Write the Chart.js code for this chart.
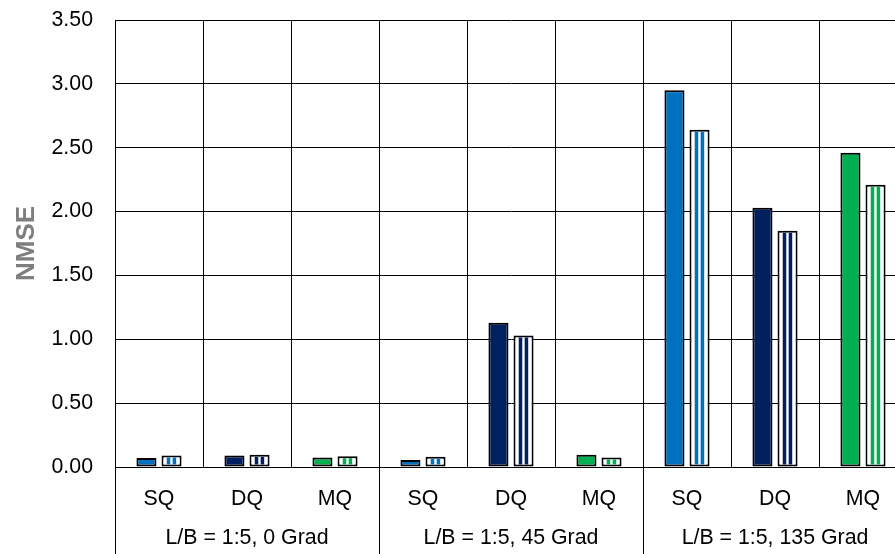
<!DOCTYPE html>
<html>
<head>
<meta charset="utf-8">
<script src="https://cdn.jsdelivr.net/npm/chart.js@4.4.1/dist/chart.umd.min.js"></script>
<style>
  html, body { margin: 0; padding: 0; background: #fff; overflow: hidden; }
  #wrap { width: 915px; height: 554px; }
</style>
</head>
<body>
<div id="wrap"><canvas id="c" width="915" height="554"></canvas></div>
<script>
const categories = ['SQ', 'DQ', 'MQ', 'SQ', 'DQ', 'MQ', 'SQ', 'DQ', 'MQ'];
const groups = ['L/B = 1:5, 0 Grad', 'L/B = 1:5, 45 Grad', 'L/B = 1:5, 135 Grad'];
const solidValues = [0.07, 0.09, 0.075, 0.055, 1.13, 0.095, 2.95, 2.03, 2.46];
const stripedValues = [0.09, 0.095, 0.085, 0.08, 1.03, 0.075, 2.64, 1.85, 2.21];
const categoryColors = ['#0070C0', '#002060', '#00B050', '#0070C0', '#002060', '#00B050', '#0070C0', '#002060', '#00B050'];
const yMin = 0, yMax = 3.5, yStep = 0.5;
const yTitle = 'NMSE';

const FONT = '"Liberation Sans", Arial, sans-serif';
const BAR_BORDER = 2;

const stripePlugin = {
  id: 'stripes',
  afterDatasetDraw(chart, args) {
    if (args.index !== 1) return;
    const ctx = chart.ctx;
    const bw = BAR_BORDER;
    const fracs = [[0.2, 0.42], [0.57, 0.79]];
    ctx.save();
    args.meta.data.forEach((el, i) => {
      const p = el.getProps(['x', 'y', 'base', 'width'], true);
      const left = p.x - p.width / 2 + bw;
      const w = p.width - 2 * bw;
      const top = Math.min(p.y, p.base) + bw;
      const bottom = Math.max(p.y, p.base) - bw;
      ctx.fillStyle = categoryColors[i];
      fracs.forEach(f => {
        ctx.fillRect(left + f[0] * w, top, (f[1] - f[0]) * w, bottom - top);
      });
    });
    ctx.restore();
  }
};

new Chart(document.getElementById('c'), {
  type: 'bar',
  data: {
    labels: categories,
    datasets: [
      {
        data: solidValues,
        backgroundColor: categoryColors,
        borderColor: '#000',
        borderWidth: BAR_BORDER,
        borderSkipped: false,
        categoryPercentage: 0.57,
        barPercentage: 0.8
      },
      {
        data: stripedValues,
        backgroundColor: '#ffffff',
        borderColor: '#000',
        borderWidth: BAR_BORDER,
        borderSkipped: false,
        categoryPercentage: 0.57,
        barPercentage: 0.8
      }
    ]
  },
  plugins: [stripePlugin],
  options: {
    responsive: false,
    animation: false,
    layout: { padding: { top: 20, right: 8, left: 0, bottom: 0 } },
    plugins: { legend: { display: false }, tooltip: { enabled: false } },
    scales: {
      x: {
        type: 'category',
        position: 'bottom',
        offset: true,
        grid: {
          offset: true,
          color: '#000',
          lineWidth: 1,
          drawTicks: true,
          tickLength: 87,
          tickWidth: 1,
          tickColor: (c) => (c.index !== undefined && c.index % 3 === 0) ? '#000' : 'rgba(0,0,0,0)'
        },
        border: { display: true, color: '#000', width: 1 },
        ticks: {
          padding: -68,
          color: '#000',
          font: { family: FONT, size: 21.33 },
          maxRotation: 0,
          autoSkip: false
        },
        afterFit: (s) => { s.height = 43; }
      },
      x2: {
        type: 'category',
        position: 'bottom',
        labels: groups,
        offset: true,
        grid: { display: false },
        border: { display: false },
        ticks: {
          padding: 7,
          color: '#000',
          font: { family: FONT, size: 21.33 },
          maxRotation: 0,
          autoSkip: false
        },
        afterFit: (s) => { s.height = 44; }
      },
      y: {
        min: yMin,
        max: yMax,
        grid: { color: '#000', lineWidth: 1, drawTicks: false },
        border: { display: true, color: '#000', width: 1 },
        ticks: {
          stepSize: yStep,
          padding: 22,
          color: '#000',
          font: { family: FONT, size: 21.33 },
          callback: (v) => Number(v).toFixed(2)
        },
        title: {
          display: true,
          text: yTitle,
          color: '#7f7f7f',
          font: { family: FONT, size: 26, weight: 'bold' },
          padding: { top: 11, bottom: 0 }
        },
        afterFit: (s) => { s.width = 115; s.paddingTop = 0; s.paddingBottom = 0; }
      }
    }
  }
});
</script>
</body>
</html>
